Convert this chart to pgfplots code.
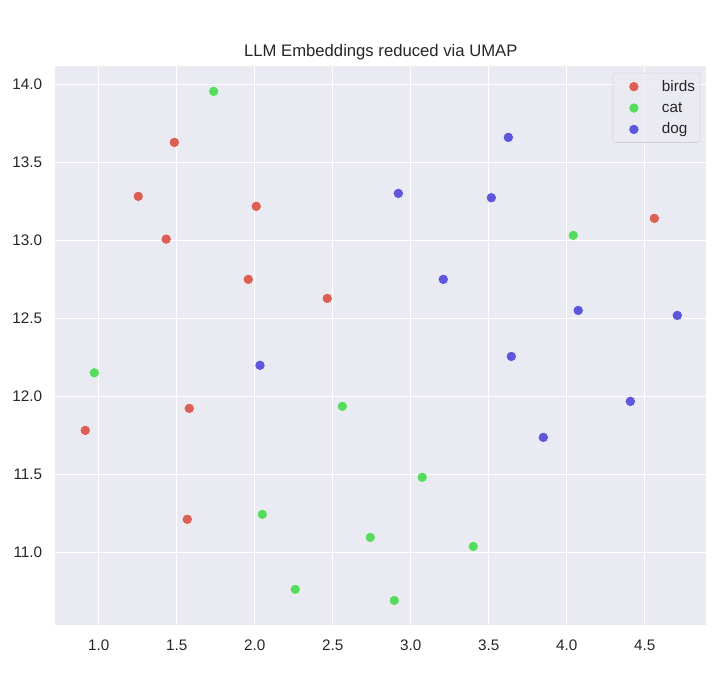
\documentclass[border=0pt]{standalone}
\usepackage{pgfplots}
\pgfplotsset{compat=1.18}
\usepackage{fontspec}
\setmainfont{Liberation Sans}
\definecolor{bg}{HTML}{EAEAF2}
\definecolor{cR}{HTML}{DB5F57}
\definecolor{cG}{HTML}{57DB5F}
\definecolor{cB}{HTML}{5F57DB}
\definecolor{txt}{HTML}{262626}
\begin{document}
\begin{tikzpicture}
\useasboundingbox (-39.8pt,-47.7pt) rectangle (480.7pt,449.9pt);
\begin{axis}[
  at={(0,0)}, anchor=south west,
  scale only axis, width=468.7pt, height=402.1pt,
  xmin=0.722, xmax=4.895, ymin=10.535, ymax=14.115,
  xtick={1,1.5,...,4.5}, ytick={11,11.5,...,14},
  axis background/.style={fill=bg},
  axis line style={draw=none},
  major tick length=0pt,
  grid=major, grid style={white, line width=1pt},
  /pgf/number format/assume math mode=true,
  xticklabel style={/pgf/number format/.cd, fixed, fixed zerofill, precision=1, /tikz/.cd,
    font=\fontsize{11}{13}\selectfont, text=txt, anchor=base, inner sep=0pt, outer sep=0pt, yshift=-18.1pt},
  yticklabel style={/pgf/number format/.cd, fixed, fixed zerofill, precision=1, /tikz/.cd,
    font=\fontsize{11}{13}\selectfont, text=txt, anchor=base east, inner sep=0pt, outer sep=0pt, xshift=-9.4pt, yshift=-3.9pt},
  title={LLM Embeddings reduced via UMAP},
  title style={at={(0.5,1)}, anchor=base, inner sep=0pt, yshift=1.0pt, font=\fontsize{12}{14}\selectfont, text=txt},
  legend image code/.code={
    \path[draw=none, fill=none] (0pt,-4.6pt) rectangle (31.7pt,4.6pt);
    \draw[#1, fill opacity=1] plot coordinates {(11.5pt,-0.2pt)};
  },
  legend style={at={(1,1)}, anchor=north east, xshift=-4.3pt, yshift=-4.6pt,
    draw=black!18, fill=bg, fill opacity=0.8, draw opacity=1, text opacity=1,
    rounded corners=2pt, font=\fontsize{11}{13}\selectfont, text=txt,
    inner xsep=3.6pt, inner ysep=5pt, column sep=0pt, row sep=6.2pt,
    nodes={inner sep=0pt, text height=8pt, text depth=1.2pt}},
  legend cell align=left,
]
\addplot[only marks, mark=*, mark size=3.7pt, mark options={fill=cR, draw=white, line width=0.3pt}] coordinates {
(1.485,13.628) (1.254,13.282) (1.433,13.008) (2.010,13.218) (1.959,12.750)
(2.465,12.628) (0.914,11.782) (1.581,11.923) (1.568,11.212) (4.562,13.141)
};
\addlegendentry{birds}
\addplot[only marks, mark=*, mark size=3.7pt, mark options={fill=cG, draw=white, line width=0.3pt}] coordinates {
(1.737,13.955) (0.972,12.151) (2.562,11.936) (2.049,11.244) (2.260,10.763)
(2.741,11.096) (2.895,10.692) (3.074,11.481) (3.401,11.038) (4.042,13.032)
};
\addlegendentry{cat}
\addplot[only marks, mark=*, mark size=3.7pt, mark options={fill=cB, draw=white, line width=0.3pt}] coordinates {
(3.626,13.660) (2.921,13.301) (3.517,13.273) (3.209,12.750) (2.034,12.199)
(3.645,12.256) (4.074,12.551) (4.709,12.519) (4.408,11.968) (3.850,11.737)
};
\addlegendentry{dog}
\end{axis}
\end{tikzpicture}
\end{document}
